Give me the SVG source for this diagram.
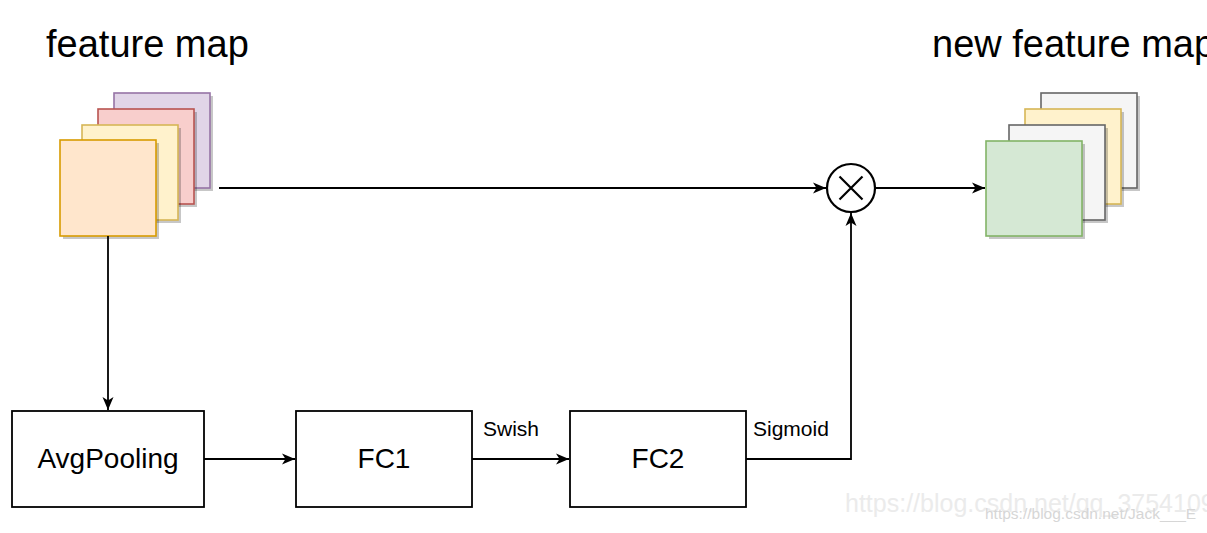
<svg xmlns="http://www.w3.org/2000/svg" width="1207" height="533" viewBox="0 0 1207 533">
<style>
text { font-family: "Liberation Sans", Arial, Helvetica, sans-serif; fill: #000; }
.title { font-size: 38px; }
.lbl { font-size: 28px; text-anchor: middle; }
.edge { font-size: 21px; }
.box { fill: #fff; stroke: #000; stroke-width: 1.8; }
.sh { fill: #000; opacity: 0.22; }
.conn { fill: none; stroke: #000; stroke-width: 1.8; }
.orange { fill: #ffe6cc; stroke: #d79b00; stroke-width: 1.6; }
.yellow { fill: #fff2cc; stroke: #d6b656; stroke-width: 1.6; }
.red { fill: #f8cecc; stroke: #b85450; stroke-width: 1.6; }
.purple { fill: #e1d5e7; stroke: #9673a6; stroke-width: 1.6; }
.green { fill: #d5e8d4; stroke: #82b366; stroke-width: 1.6; }
.gray { fill: #f5f5f5; stroke: #666666; stroke-width: 1.6; }
</style>
<defs>
<marker id="arr" markerWidth="14" markerHeight="14" viewBox="0 0 14 14" refX="13" refY="7" orient="auto" markerUnits="userSpaceOnUse">
<path d="M0,1.5 L13,7 L0,12.5 L3.5,7 Z" fill="#000"/>
</marker>
</defs>
<rect width="1207" height="533" fill="#fff"/>

<g id="title-left"><text class="title" x="46" y="57">feature map</text></g>
<g id="title-right"><text class="title" x="932" y="57">new feature map</text></g>

<g id="feature-map">
<rect class="sh" x="117" y="96" width="96" height="95"/>
<rect class="purple" x="114" y="93" width="96" height="95"/>
<rect class="sh" x="101" y="112" width="96" height="95"/>
<rect class="red" x="98" y="109" width="96" height="95"/>
<rect class="sh" x="85" y="128" width="96" height="95"/>
<rect class="yellow" x="82" y="125" width="96" height="95"/>
<rect class="sh" x="63" y="143" width="96" height="96"/>
<rect class="orange" x="60" y="140" width="96" height="96"/>
</g>

<g id="new-feature-map">
<rect class="sh" x="1044" y="96" width="96" height="95"/>
<rect class="gray" x="1041" y="93" width="96" height="95"/>
<rect class="sh" x="1028" y="112" width="96" height="95"/>
<rect class="yellow" x="1025" y="109" width="96" height="95"/>
<rect class="sh" x="1012" y="128" width="96" height="95"/>
<rect class="gray" x="1009" y="125" width="96" height="95"/>
<rect class="sh" x="989" y="144" width="96" height="95"/>
<rect class="green" x="986" y="141" width="96" height="95"/>
</g>

<g id="multiply">
<circle cx="851" cy="188" r="24" fill="#fff" stroke="#000" stroke-width="2.2"/>
<path d="M839.5,176.5 L862.5,199.5 M862.5,176.5 L839.5,199.5" stroke="#000" stroke-width="2.2" fill="none"/>
</g>

<g id="avgpooling">
<rect class="box" x="12" y="411" width="192" height="96"/>
<text class="lbl" x="108" y="468">AvgPooling</text>
</g>
<g id="fc1">
<rect class="box" x="296" y="411" width="176" height="96"/>
<text class="lbl" x="384" y="468">FC1</text>
</g>
<g id="fc2">
<rect class="box" x="570" y="411" width="176" height="96"/>
<text class="lbl" x="658" y="468">FC2</text>
</g>

<g id="connectors">
<path class="conn" d="M219,188 L826,188" marker-end="url(#arr)"/>
<path class="conn" d="M875,188 L985,188" marker-end="url(#arr)"/>
<path class="conn" d="M108,236 L108,410" marker-end="url(#arr)"/>
<path class="conn" d="M204,459 L295,459" marker-end="url(#arr)"/>
<path class="conn" d="M472,459 L569,459" marker-end="url(#arr)"/>
<path class="conn" d="M746,459 L851,459 L851,213" marker-end="url(#arr)"/>
<text class="edge" x="483" y="436">Swish</text>
<text class="edge" x="753" y="436">Sigmoid</text>
</g>

<g id="watermark">
<text x="845" y="512" style="font-size:25px; fill:#ebebeb;">https://blog.csdn.net/qq_3754109</text>
<text x="985" y="519" style="font-size:15.5px; fill:#d6d6d6;">https://blog.csdn.net/Jack___E</text>
</g>
</svg>
